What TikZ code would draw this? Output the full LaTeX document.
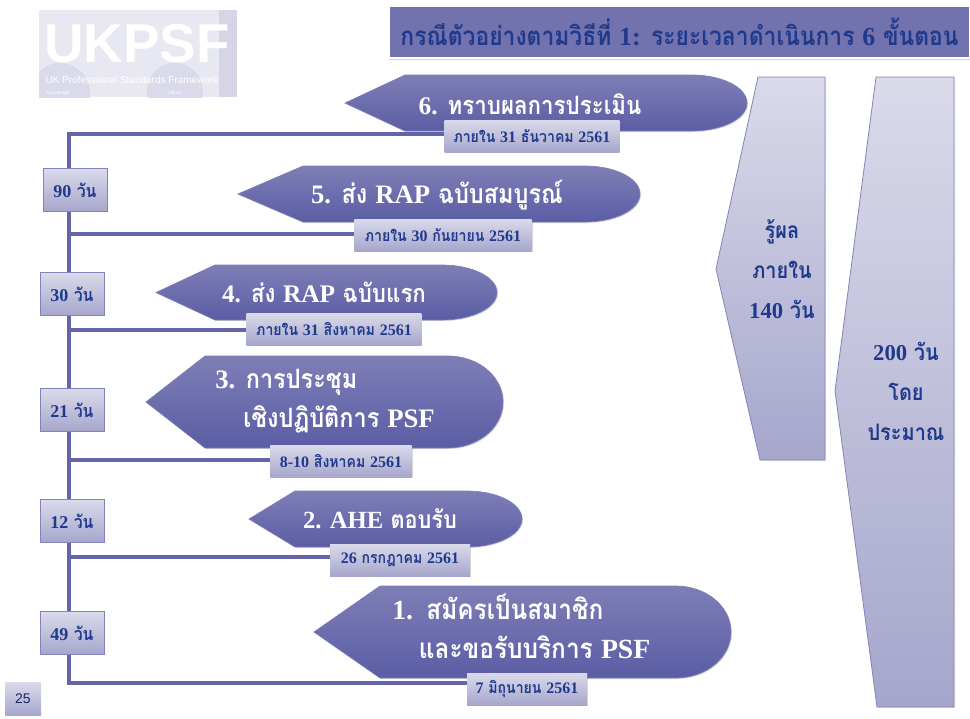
\documentclass[tikz,border=0pt]{standalone}
\usepackage{fontspec}
\setmainfont[Script=Thai,FakeStretch=0.88]{Loma}
\newfontfamily\latinfont{Liberation Serif}
\newfontfamily\logofont{Liberation Sans}
\usetikzlibrary{positioning, shadows, shadings}
\usepackage{xcolor}
\definecolor{stepTop}{HTML}{7E7EB6}
\definecolor{stepBot}{HTML}{5B5DA5}
\definecolor{boxTop}{HTML}{DADAEB}
\definecolor{boxBot}{HTML}{A6A6CC}
\definecolor{lineBlue}{HTML}{6464A8}
\definecolor{inkBlue}{HTML}{1F3A8C}
\definecolor{titleBlue}{HTML}{7272AE}
\newcommand{\lat}[1]{{\latinfont #1}}
\tikzset{
	stepshape/.style={top color=stepTop, bottom color=stepBot, draw=stepBot!80!white, line width=0.5pt, drop shadow={opacity=0.25, shadow xshift=0.8pt, shadow yshift=-0.8pt}},
	sideshape/.style={top color=boxTop, bottom color=boxBot, draw=lineBlue!80!white, line width=0.6pt, drop shadow={opacity=0.2, shadow xshift=0.8pt, shadow yshift=-0.8pt}},
	steptext/.style={text=white, font=\bfseries\fontsize{19}{29}\selectfont, align=left, inner sep=0pt},
	datebox/.style={top color=boxTop, bottom color=boxBot, font=\bfseries\fontsize{12}{14}\selectfont, text=inkBlue, minimum height=24pt, inner sep=0pt, drop shadow={opacity=0.3, shadow xshift=0.8pt, shadow yshift=-0.8pt}},
	daybox/.style={top color=boxTop, bottom color=boxBot, draw=lineBlue!80!white, line width=0.7pt, font=\bfseries\fontsize{13.5}{16}\selectfont, text=inkBlue, minimum width=48pt, minimum height=32pt, inner sep=0pt, drop shadow={opacity=0.25, shadow xshift=0.8pt, shadow yshift=-0.8pt}},
	sidetext/.style={font=\bfseries\fontsize{17}{30}\selectfont, text=inkBlue, align=center, inner sep=0pt},
	timeline/.style={draw=lineBlue, line width=2.8pt},
}
% tip, shoulder, right end, top, bottom
\newcommand{\steparrow}[5]{
	\path[stepshape] (#1,{(#4+#5)/2}) -- (#2,#4) -- ({#3-55},#4)
		.. controls ({#3-25},#4) and (#3,{#4+0.22*(#5-#4)}) .. (#3,{(#4+#5)/2})
		.. controls (#3,{#5-0.22*(#5-#4)}) and ({#3-25},#5) .. ({#3-55},#5)
		-- (#2,#5) -- cycle;
}
\begin{document}
\begin{tikzpicture}[x=0.75pt, y=-0.75pt]
	\useasboundingbox (0,0) rectangle (970,718);
	
	% logo
	\fill[color=titleBlue!16] (39,10) rectangle (237,97);
	\fill[color=titleBlue!30] (219,10) rectangle (237,97);
	\begin{scope}
		\clip (39,10) rectangle (237,97);
		\fill[color=titleBlue!26] (60,93) circle (30);
		\fill[color=titleBlue!26] (175,91) circle (28);
	\end{scope}
	\node[font=\logofont\bfseries\fontsize{41}{41}\selectfont, text=white, inner sep=0pt] (logo) at (137,44) {UKPSF};
	\node[font=\logofont\fontsize{7.5}{9}\selectfont, text=white, inner sep=0pt] (logosub) at (132,80) {UK Professional Standards Framework};
	\node[font=\logofont\fontsize{3.6}{4}\selectfont, text=white, inner sep=0pt] (logoleft) at (58,93) {Knowledge};
	\node[font=\logofont\fontsize{3.6}{4}\selectfont, text=white, inner sep=0pt] (logoright) at (175,93) {Values};
	
	% title
	\node[fill=titleBlue, draw=white, line width=2pt, text=inkBlue, font=\bfseries\fontsize{19.5}{22}\selectfont, minimum width=436pt, minimum height=39pt, inner sep=0pt, drop shadow={opacity=0.35, shadow xshift=0pt, shadow yshift=-1.2pt}] (title) at (679.5,32) {กรณีตัวอย่างตามวิธีที่ \lat{1:} ระยะเวลาดำเนินการ \lat{6} ขั้นตอน};
	
	% time line
	\coordinate (j6) at (69,134);
	\coordinate (j5) at (69,234);
	\coordinate (j4) at (69,330);
	\coordinate (j3) at (69,460);
	\coordinate (j2) at (69,557);
	\coordinate (j1) at (69,683);
	\draw[timeline, line cap=rect] (j6) -- (j1);
	
	% day counts
	\node[daybox] (n90) at (75,190) {\lat{90} วัน};
	\node[daybox] (n30) at (72,294) {\lat{30} วัน};
	\node[daybox] (n21) at (72,410) {\lat{21} วัน};
	\node[daybox] (n12) at (72,521) {\lat{12} วัน};
	\node[daybox] (n49) at (72,633) {\lat{49} วัน};
	
	% steps
	\steparrow{345}{405}{747}{75}{131}
	\steparrow{238}{303}{640}{166}{222}
	\steparrow{156}{215}{497}{265}{320}
	\steparrow{146}{205}{503}{356}{448}
	\steparrow{249}{295}{522}{491}{547}
	\steparrow{314}{380}{731}{586}{678}
	\node[steptext] (s6) at (530,104) {\lat{6.} ทราบผลการประเมิน};
	\node[steptext, font=\bfseries\fontsize{20}{29}\selectfont] (s5) at (437,195) {\lat{5.} ส่ง \lat{RAP} ฉบับสมบูรณ์};
	\node[steptext] (s4) at (324,292) {\lat{4.} ส่ง \lat{RAP} ฉบับแรก};
	\node[steptext, font=\bfseries\fontsize{20}{29}\selectfont, anchor=north west] (s3) at (215,369) {\lat{3.} การประชุม\\\hspace*{21pt}เชิงปฏิบัติการ \lat{PSF}};
	\node[steptext, font=\bfseries\fontsize{18.5}{29}\selectfont] (s2) at (380,519) {\lat{2. AHE} ตอบรับ};
	\node[steptext, font=\bfseries\fontsize{20.8}{29}\selectfont, anchor=north west] (s1) at (392,594) {\lat{1.}\hspace*{10pt}สมัครเป็นสมาชิก\\\hspace*{20pt}และขอรับบริการ \lat{PSF}};
	
	% dates
	\node[datebox, minimum width=131pt] (d6) at (532,136) {ภายใน \lat{31} ธันวาคม \lat{2561}};
	\node[datebox, minimum width=133pt] (d5) at (443,235) {ภายใน \lat{30} กันยายน \lat{2561}};
	\node[datebox, minimum width=131pt] (d4) at (334,329) {ภายใน \lat{31} สิงหาคม \lat{2561}};
	\node[datebox, minimum width=106pt] (d3) at (341,461) {\lat{8-10} สิงหาคม \lat{2561}};
	\node[datebox, minimum width=105pt] (d2) at (400,560) {\lat{26} กรกฎาคม \lat{2561}};
	\node[datebox, minimum width=90pt] (d1) at (527,689) {\lat{7} มิถุนายน \lat{2561}};
	\draw[timeline] (j6) -- (j6 -| d6.west);
	\draw[timeline] (j5) -- (j5 -| d5.west);
	\draw[timeline] (j4) -- (j4 -| d4.west);
	\draw[timeline] (j3) -- (j3 -| d3.west);
	\draw[timeline] (j2) -- (j2 -| d2.west);
	\draw[timeline] (j1) -- (j1 -| d1.west);
	
	% right side
	\path[sideshape] (716,269) -- (758,77) -- (825,77) -- (825,460) -- (760,460) -- cycle;
	\path[sideshape] (835,391) -- (876,77) -- (954,77) -- (954,707) -- (877,707) -- cycle;
	\node[sidetext] (known) at (782,269) {รู้ผล\\ภายใน\\\lat{140} วัน};
	\node[sidetext] (approx) at (906,391) {\lat{200} วัน\\โดย\\ประมาณ};
	
	% page number
	\node[top color=boxTop, bottom color=boxBot, minimum width=27pt, minimum height=25pt, inner sep=0pt, font=\logofont\fontsize{10.5}{12}\selectfont, text=inkBlue!70!black] (page) at (23,699) {25};
\end{tikzpicture}
\end{document}
